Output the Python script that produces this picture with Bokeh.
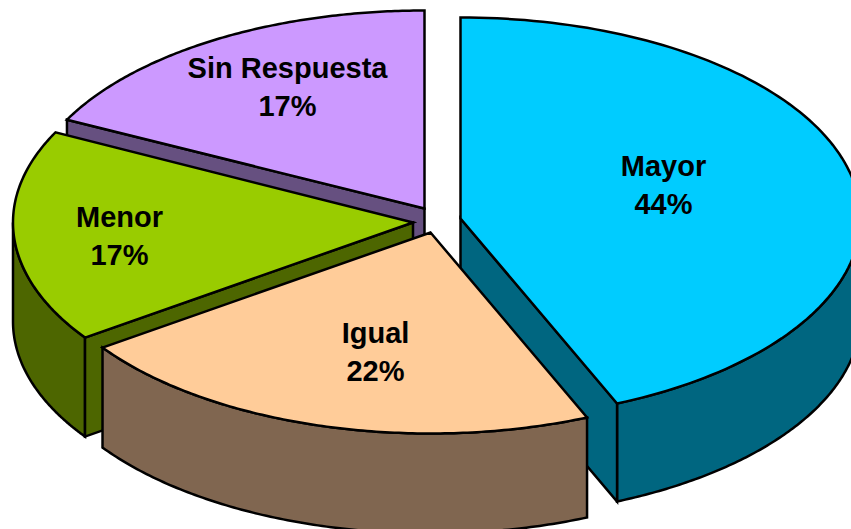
import numpy as np
from bokeh.embed import file_html
from bokeh.models import Range1d
from bokeh.plotting import figure
from bokeh.resources import INLINE
from bokeh.core.properties import value

# Data
names = ["Mayor", "Igual", "Menor", "Sin Respuesta"]
shares = [43.6, 21.7, 17.1, 17.6]
percent_labels = ["44%", "22%", "17%", "17%"]
top_colors = ["#00CCFF", "#FFCC99", "#99CC00", "#CC99FF"]
side_colors = ["#006680", "#806650", "#4D6600", "#665080"]

# Layout of the exploded 3D pie
apex_x = [460, 430, 412.5, 424]
apex_y = [218, 232, 222, 208]
radius_y = [201, 201, 201, 198]
depth = [98, 100, 99, 98]
label_x = [663, 375, 119, 287]
label_y = [165, 332, 216, 67]
RX = 400

p = figure(width=851, height=529, x_range=Range1d(0, 851), y_range=Range1d(529, 0),
           toolbar_location=None, output_backend="svg", min_border=0,
           outline_line_color=None, background_fill_color="white", border_fill_color="white")
p.axis.visible = False
p.grid.visible = False

edges = np.cumsum([0] + shares) / sum(shares) * 360.0


def arc(i, a, b, n=120):
    t = np.radians(np.linspace(a, b, n))
    return apex_x[i] + RX * np.sin(t), apex_y[i] - radius_y[i] * np.cos(t)


def poly(xs, ys, color):
    p.patch(list(xs), list(ys), fill_color=color, line_color="black", line_width=2.5, line_join="miter")


def draw_slice(i):
    a, b = edges[i], edges[i + 1]
    ax, ay, d = apex_x[i], apex_y[i], depth[i]
    # outer wall: only the part that faces the viewer
    lo, hi = max(a, 90.0), min(b, 270.0)
    if hi > lo:
        x, y = arc(i, lo, hi)
        poly(np.r_[x, x[::-1]], np.r_[y, y[::-1] + d], side_colors[i])
    # cut face hanging from the radial edge that faces the viewer
    if i == 0:
        ex, ey = arc(i, b, b, 1)
        poly([ax, ex[0], ex[0], ax], [ay, ey[0], ey[0] + d, ay + d], side_colors[i])
    if i in (2, 3):
        ex, ey = arc(i, a, a, 1)
        poly([ax, ex[0], ex[0], ax], [ay, ey[0], ey[0] + d, ay + d], side_colors[i])
    # top face
    x, y = arc(i, a, b)
    poly(np.r_[ax, x], np.r_[ay, y], top_colors[i])


for i in [3, 2, 0, 1]:
    draw_slice(i)

LINE_GAP = 38.5
font = value("Liberation Sans")
p.text(label_x, label_y, text=names, text_font=font, text_font_size="29px", text_font_style="bold",
       text_align="center", text_baseline="middle", text_color="black")
p.text(label_x, [v + LINE_GAP for v in label_y], text=percent_labels, text_font=font, text_font_size="29px",
       text_font_style="bold", text_align="center", text_baseline="middle", text_color="black")

open("out.html", "w").write(file_html(p, INLINE))
